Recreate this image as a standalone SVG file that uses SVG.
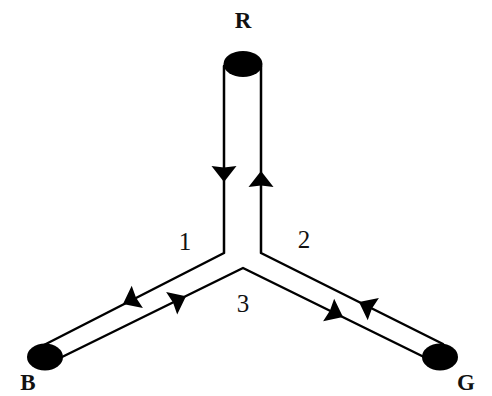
<svg xmlns="http://www.w3.org/2000/svg" width="492" height="396" viewBox="0 0 492 396">
<style>
.ln{stroke:#000;stroke-width:2.5;fill:none;stroke-linecap:round;stroke-linejoin:round}
.blob{fill:#000}
.lbl{font-family:"Liberation Serif","Times New Roman",serif;font-weight:bold;text-anchor:middle;fill:#111}
.num{font-family:"Liberation Serif","Times New Roman",serif;font-size:25px;text-anchor:middle;fill:#111}
</style>
<defs>
<path id="ah" d="M0,0 L-16,-12.5 L-14.5,0 L-16,12.5 Z" fill="#000"/>
</defs>
<rect width="492" height="396" fill="#fff"/>
<g id="connectors">
<path class="ln" d="M224,66 L224,253 L44,345"/>
<path class="ln" d="M261,66 L261,253 L443,344"/>
<path class="ln" d="M62,357 L243,268 L424,357"/>
<use href="#ah" transform="translate(224,182) rotate(90)"/>
<use href="#ah" transform="translate(261,171) rotate(-90)"/>
<use href="#ah" transform="translate(123,304) rotate(153.4)"/>
<use href="#ah" transform="translate(186,296.2) rotate(-26.3)"/>
<use href="#ah" transform="translate(343,317) rotate(26.2)"/>
<use href="#ah" transform="translate(359,302) rotate(206.6)"/>
</g>
<g id="R">
<ellipse class="blob" cx="243" cy="64" rx="19.5" ry="13"/>
<text class="lbl" x="243" y="28" font-size="23">R</text>
</g>
<g id="B">
<ellipse class="blob" cx="45" cy="357" rx="18" ry="13.5"/>
<text class="lbl" x="28" y="390" font-size="23">B</text>
</g>
<g id="G">
<ellipse class="blob" cx="440" cy="357" rx="18" ry="13.5"/>
<text class="lbl" x="466" y="390" font-size="23">G</text>
</g>
<g id="labels">
<text class="num" x="185" y="250">1</text>
<text class="num" x="304" y="248">2</text>
<text class="num" x="243" y="312">3</text>
</g>
</svg>
